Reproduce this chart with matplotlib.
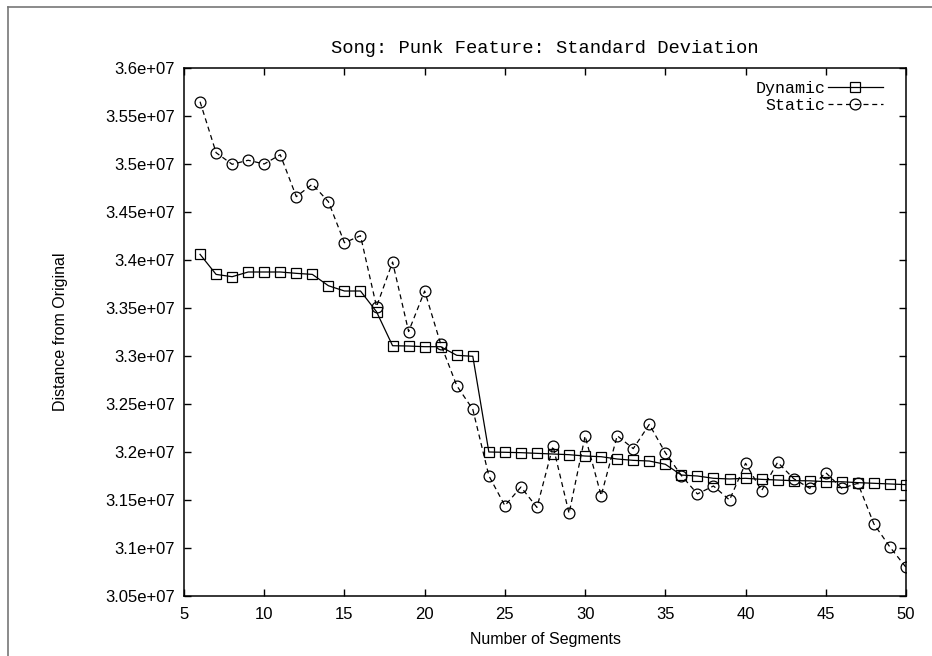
import matplotlib
matplotlib.use('Agg')
import matplotlib.pyplot as plt
from matplotlib.lines import Line2D

# segment counts 6..50
segments = list(range(6, 51))

dynamic = [3.4059e7, 3.3850e7, 3.3826e7, 3.3875e7, 3.3875e7, 3.3875e7, 3.3861e7, 3.3850e7,
           3.3732e7, 3.3677e7, 3.3677e7, 3.3461e7, 3.3107e7, 3.3104e7, 3.3097e7, 3.3097e7,
           3.3007e7, 3.2997e7, 3.2000e7, 3.1997e7, 3.1993e7, 3.1986e7, 3.1979e7, 3.1972e7,
           3.1958e7, 3.1951e7, 3.1927e7, 3.1913e7, 3.1906e7, 3.1872e7, 3.1760e7, 3.1750e7,
           3.1726e7, 3.1719e7, 3.1726e7, 3.1715e7, 3.1708e7, 3.1701e7, 3.1700e7, 3.1691e7,
           3.1690e7, 3.1681e7, 3.1674e7, 3.1667e7, 3.1660e7]

static = [3.5649e7, 3.5118e7, 3.4997e7, 3.5039e7, 3.5000e7, 3.5097e7, 3.4660e7, 3.4790e7,
          3.4607e7, 3.4180e7, 3.4253e7, 3.3514e7, 3.3979e7, 3.3255e7, 3.3677e7, 3.3125e7,
          3.2691e7, 3.2444e7, 3.1753e7, 3.1441e7, 3.1635e7, 3.1423e7, 3.2063e7, 3.1361e7,
          3.2167e7, 3.1545e7, 3.2170e7, 3.2035e7, 3.2287e7, 3.1993e7, 3.1755e7, 3.1563e7,
          3.1646e7, 3.1500e7, 3.1882e7, 3.1597e7, 3.1893e7, 3.1722e7, 3.1622e7, 3.1785e7,
          3.1622e7, 3.1674e7, 3.1250e7, 3.1010e7, 3.0799e7]

xticks = [5, 10, 15, 20, 25, 30, 35, 40, 45, 50]
yticks = [3.05e7, 3.1e7, 3.15e7, 3.2e7, 3.25e7, 3.3e7, 3.35e7, 3.4e7, 3.45e7, 3.5e7, 3.55e7, 3.6e7]

plt.rcParams['font.family'] = ['Liberation Sans', 'DejaVu Sans']

W, H = 932, 656
fig = plt.figure(figsize=(W / 100, H / 100), dpi=100)
ax = fig.add_axes([184 / W, 1 - 596 / H, (906 - 184) / W, (596 - 68) / H])

ax.plot(segments, dynamic, color='black', lw=0.9, marker='s', ms=7.8,
        mfc='none', mec='black', mew=0.9, label='Dynamic')
ax.plot(segments, static, color='black', lw=0.9, ls=(0, (4, 3)), marker='o', ms=7.8,
        mfc='none', mec='black', mew=0.9, label='Static')

ax.set_xlim(5, 50)
ax.set_ylim(3.05e7, 3.6e7)
ax.set_xticks(xticks)
ax.set_xticklabels([str(t) for t in xticks])
ax.set_yticks(yticks)
ax.set_yticklabels(['%ge+07' % (t / 1e7) for t in yticks])
ax.tick_params(direction='in', length=5, width=1, top=True, right=True, labelsize=12)
ax.tick_params(axis='y', pad=6.5)
ax.tick_params(axis='x', pad=8)
for s in ax.spines.values():
    s.set_linewidth(1.1)

ax.set_xlabel('Number of Segments', fontsize=11.5, labelpad=7)
ax.set_ylabel('Distance from Original', fontsize=11.5, labelpad=27)
ax.set_title('Song: Punk Feature: Standard Deviation',
             fontdict={'family': 'Liberation Mono', 'size': 13.5}, pad=11)

ax.legend(loc='upper right', bbox_to_anchor=(0.985, 1.0), frameon=False,
          prop={'family': 'Liberation Mono', 'size': 12},
          markerfirst=False, handlelength=3.3, handletextpad=0.15, labelspacing=0.12,
          borderaxespad=0.35)

# grey frame of the page (left and top edges only visible)
fig.add_artist(Line2D([8 / W, 8 / W], [0, 1 - 7 / H], transform=fig.transFigure,
                      color='#777777', lw=1.2))
fig.add_artist(Line2D([8 / W, 1], [1 - 7 / H, 1 - 7 / H], transform=fig.transFigure,
                      color='#777777', lw=1.2))

fig.savefig('out.png', dpi=100)
